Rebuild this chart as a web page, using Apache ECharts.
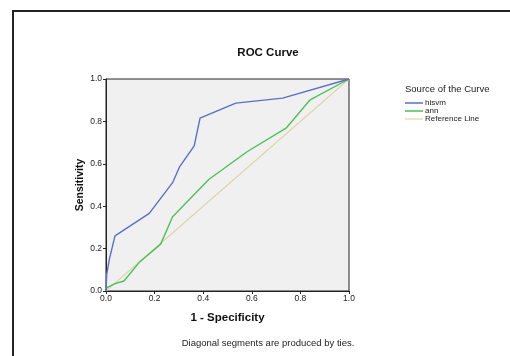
<!DOCTYPE html>
<html><head><meta charset="utf-8">
<script src="https://cdn.jsdelivr.net/npm/echarts@6/dist/echarts.min.js"></script>
<style>html,body{margin:0;padding:0;background:#fff}#c{width:510px;height:356px}</style>
</head><body><div id="c"></div>
<script>
const hisvmX = [0, 0.003, 0.014, 0.037, 0.178, 0.274, 0.302, 0.363, 0.387, 0.534, 0.727, 1];
const hisvmY = [0, 0.08, 0.15, 0.26, 0.366, 0.511, 0.584, 0.685, 0.815, 0.886, 0.91, 1];
const annX = [0, 0.037, 0.074, 0.136, 0.225, 0.274, 0.424, 0.582, 0.741, 0.84, 1];
const annY = [0.014, 0.035, 0.047, 0.134, 0.221, 0.35, 0.527, 0.658, 0.768, 0.902, 1];
const refX = [0, 1];
const refY = [0, 1];
const seriesNames = ['hisvm', 'ann', 'Reference Line'];
const zip = (a, b) => a.map((v, i) => [v, b[i]]);
const chart = echarts.init(document.getElementById('c'), null, {renderer: 'canvas'});
const ff = 'Liberation Sans, Arial, sans-serif';
chart.setOption({
  animation: false,
  graphic: [{type: 'rect', shape: {x: 13, y: 11, width: 700, height: 500}, style: {fill: 'none', stroke: '#222', lineWidth: 2}}],
  title: [
    {text: 'ROC Curve', left: 263, top: 42, textAlign: 'center', textStyle: {fontFamily: ff, fontSize: 11.5, fontWeight: 'bold', color: '#111'}},
    {text: 'Source of the Curve', left: 400, top: 79, textStyle: {fontFamily: ff, fontSize: 9.5, fontWeight: 'normal', color: '#222'}},
    {text: 'Diagonal segments are produced by ties.', left: 263, top: 333, textAlign: 'center', textStyle: {fontFamily: ff, fontSize: 9.5, fontWeight: 'normal', color: '#222'}}
  ],
  legend: {
    orient: 'vertical', left: 400, top: 94, itemWidth: 18, itemHeight: 1.5, itemGap: 0,
    icon: 'rect', data: seriesNames,
    textStyle: {fontFamily: ff, fontSize: 8, color: '#222', padding: [0,0,0,-3]}
  },
  grid: {left: 106, right: 161, top: 79, bottom: 65, show: true, backgroundColor: '#f0f0f0', borderColor: '#222', borderWidth: 1},
  xAxis: {
    type: 'value', min: 0, max: 1, interval: 0.2,
    name: '1 - Specificity', nameLocation: 'middle', nameGap: 21,
    nameTextStyle: {fontFamily: ff, fontSize: 11.5, fontWeight: 'bold', color: '#111'},
    axisLine: {lineStyle: {color: '#222'}}, axisTick: {length: 3, lineStyle: {color: '#222'}},
    axisLabel: {fontFamily: ff, fontSize: 8.5, color: '#222', margin: 3, formatter: v => v.toFixed(1)},
    splitLine: {show: false}
  },
  yAxis: {
    type: 'value', min: 0, max: 1, interval: 0.2,
    name: 'Sensitivity', nameLocation: 'middle', nameGap: 20,
    nameTextStyle: {fontFamily: ff, fontSize: 10.5, fontWeight: 'bold', color: '#111'},
    axisLine: {show: true, lineStyle: {color: '#222'}}, axisTick: {show: true, length: 3, lineStyle: {color: '#222'}},
    axisLabel: {fontFamily: ff, fontSize: 8.5, color: '#222', margin: 4, formatter: v => v.toFixed(1)},
    splitLine: {show: false}
  },
  series: [
    {name: 'hisvm', type: 'line', data: zip(hisvmX, hisvmY), showSymbol: false, symbol: 'none', lineStyle: {color: '#5b6fc9', width: 1.4}, itemStyle: {color: '#5b6fc9'}, z: 4},
    {name: 'ann', type: 'line', data: zip(annX, annY), showSymbol: false, symbol: 'none', lineStyle: {color: '#4cc05a', width: 1.4}, itemStyle: {color: '#4cc05a'}, z: 3},
    {name: 'Reference Line', type: 'line', data: zip(refX, refY), showSymbol: false, symbol: 'none', lineStyle: {color: '#dcd6a6', width: 1.1}, itemStyle: {color: '#e6dfb0'}, z: 2}
  ]
});
</script></body></html>
